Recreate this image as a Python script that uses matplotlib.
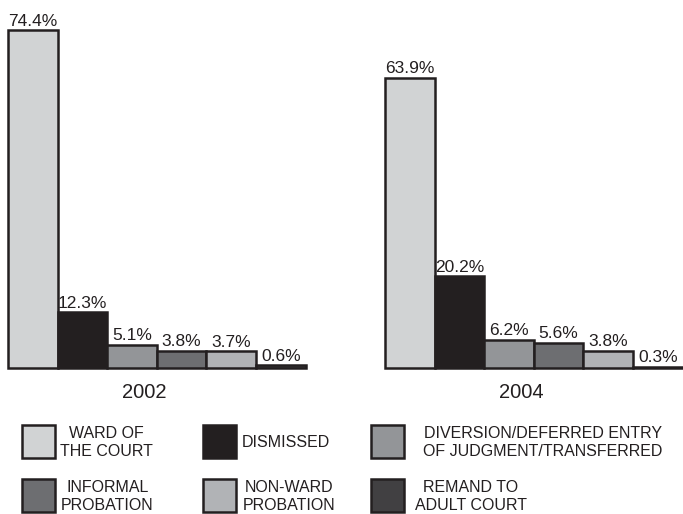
import matplotlib
matplotlib.use('Agg')
import matplotlib.pyplot as plt
from matplotlib.patches import Rectangle

plt.rcParams['font.family'] = ['Liberation Sans', 'DejaVu Sans']

# data
years = ['2002', '2004']
categories = ['WARD OF\nTHE COURT', 'DISMISSED', 'DIVERSION/DEFERRED ENTRY\nOF JUDGMENT/TRANSFERRED',
              'INFORMAL\nPROBATION', 'NON-WARD\nPROBATION', 'REMAND TO\nADULT COURT']
values_2002 = [74.4, 12.3, 5.1, 3.8, 3.7, 0.6]
values_2004 = [63.9, 20.2, 6.2, 5.6, 3.8, 0.3]
colors = ['#d1d3d4', '#231f20', '#939598', '#6d6e71', '#b1b3b6', '#414042']
ink = '#231f20'

fig = plt.figure(figsize=(6.83, 5.14), dpi=100)

# main axes: 0% at 368 px from top, 4.54 px per percent, bar slot 49.6 px
W, H = 683, 514
px_per_pct = 4.54
slot = 49.6
base_px = 368
ymax = 81
ax = fig.add_axes([0, (H - base_px) / H, 1, ymax * px_per_pct / H])
ax.set_ylim(0, ymax)
ax.set_xlim(-8 / slot, (W - 8) / slot)
ax.axis('off')

group_offset = 377 / slot
for g, (year, vals) in enumerate(zip(years, [values_2002, values_2004])):
    xs = [g * group_offset + i for i in range(len(vals))]
    ax.bar(xs, vals, width=1, align='edge', color=colors, edgecolor=ink,
           linewidth=1.8, clip_on=False)
    for x, v in zip(xs, vals):
        ax.text(x + 0.5, v + 0.35, f'{v}%', ha='center', va='bottom',
                fontsize=12.5, color=ink)
    ax.text(g * group_offset + 2.75, -5.3, year, ha='center', va='center',
            fontsize=14.5, color=ink, clip_on=False)

# legend drawn in pixel space
lax = fig.add_axes([0, 0, 1, 1], zorder=-1)
lax.set_xlim(0, W)
lax.set_ylim(H, 0)
lax.axis('off')
patch_x = [21, 202, 370, 21, 202, 370]
patch_y = [424, 424, 424, 478, 478, 478]
text_x = [60, 242, 423, 61, 243, 415]
size = 35
for lab, col, px, py, tx in zip(categories, colors, patch_x, patch_y, text_x):
    lax.add_patch(Rectangle((px + 1, py + 1), size - 2, size - 2, facecolor=col,
                            edgecolor=ink, linewidth=1.8))
    lax.text(tx, py + size / 2 + 1, lab, ha='left', va='center', multialignment='center',
             fontsize=11.5, color=ink, linespacing=1.2)

fig.savefig('out.png', dpi=100)
